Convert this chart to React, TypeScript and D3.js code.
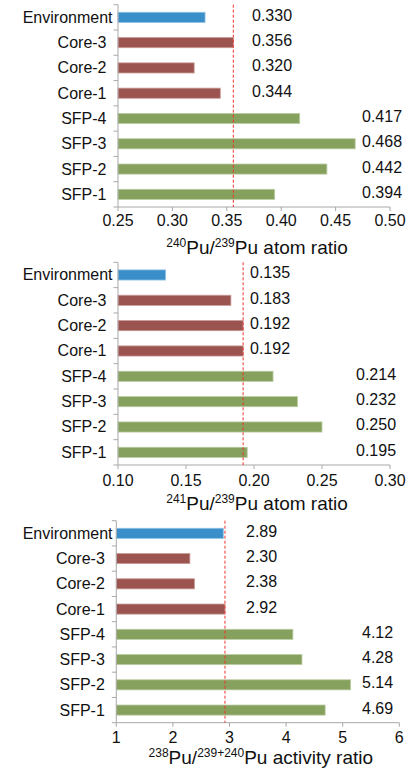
import React, { useEffect, useRef } from "react";
import * as d3 from "d3";

// Sample categories, listed top to bottom
const categories = ["Environment", "Core-3", "Core-2", "Core-1", "SFP-4", "SFP-3", "SFP-2", "SFP-1"];
const groups = ["env", "core", "core", "core", "sfp", "sfp", "sfp", "sfp"];

// 240Pu/239Pu atom ratio
const ratio240 = [0.33, 0.356, 0.32, 0.344, 0.417, 0.468, 0.442, 0.394];
// 241Pu/239Pu atom ratio
const ratio241 = [0.135, 0.183, 0.192, 0.192, 0.214, 0.232, 0.25, 0.195];
// 238Pu/(239+240)Pu activity ratio
const ratio238 = [2.89, 2.3, 2.38, 2.92, 4.12, 4.28, 5.14, 4.69];

const ticks240 = [0.25, 0.3, 0.35, 0.4, 0.45, 0.5];
const ticks241 = [0.1, 0.15, 0.2, 0.25, 0.3];
const ticks238 = [1, 2, 3, 4, 5, 6];

const groupColor: Record<string, string> = {
  env: "#3a8fcb",
  core: "#9b5450",
  sfp: "#86a15d",
};
const groupStroke: Record<string, string> = {
  env: "#8fc0e4",
  core: "#c99a97",
  sfp: "#bccca4",
};

type Panel = {
  values: number[];
  ticks: number[];
  tickFmt: string;
  valFmt: string;
  sup1: string;
  sup2: string;
  tail: string;
  top: number;
  bottom: number;
  x0: number;
  x1: number;
  colA: number;
  colB: number;
  tickDy: number;
  titleDy: number;
};

const panels: Panel[] = [
  { values: ratio240, ticks: ticks240, tickFmt: ".2f", valFmt: ".3f", sup1: "240", sup2: "239", tail: "Pu atom ratio",
    top: 4.7, bottom: 207, x0: 118, x1: 390, colA: 252, colB: 362, tickDy: 19, titleDy: 46.5 },
  { values: ratio241, ticks: ticks241, tickFmt: ".2f", valFmt: ".3f", sup1: "241", sup2: "239", tail: "Pu atom ratio",
    top: 262.3, bottom: 465, x0: 118, x1: 390, colA: 250, colB: 356, tickDy: 20.5, titleDy: 45 },
  { values: ratio238, ticks: ticks238, tickFmt: "d", valFmt: ".2f", sup1: "238", sup2: "239+240", tail: "Pu activity ratio",
    top: 520.7, bottom: 722.7, x0: 116.3, x1: 399.3, colA: 246, colB: 362, tickDy: 20.5, titleDy: 41.5 },
];

const FONT = "'Liberation Sans', Arial, Helvetica, sans-serif";

export default function App() {
  const ref = useRef<SVGSVGElement>(null);

  useEffect(() => {
    const svg = d3.select(ref.current);
    svg.selectAll("*").remove();

    panels.forEach((p) => {
      const g = svg.append("g");
      const ticks = p.ticks;
      const x = d3.scaleLinear().domain([ticks[0], ticks[ticks.length - 1]]).range([p.x0, p.x1]);
      const y = d3.scaleBand().domain(categories).range([p.top, p.bottom]).paddingInner(0.6).paddingOuter(0.3);
      const yb = d3.scaleBand().domain(categories).range([p.top, p.bottom]);

      // reference line at the highest core value
      const coreMax = d3.max(p.values.filter((_, i) => groups[i] === "core")) as number;

      // bars
      g.selectAll("rect.bar")
        .data(p.values)
        .join("rect")
        .attr("class", "bar")
        .attr("x", x(ticks[0]))
        .attr("y", (_, i) => y(categories[i]) as number)
        .attr("width", (d) => x(d) - x(ticks[0]))
        .attr("height", y.bandwidth())
        .attr("fill", (_, i) => groupColor[groups[i]])
        .attr("stroke", (_, i) => groupStroke[groups[i]])
        .attr("stroke-width", 0.8);

      // axes
      const axisColor = "#a8a8a8";
      g.append("line")
        .attr("x1", p.x0).attr("x2", p.x0)
        .attr("y1", p.top).attr("y2", p.bottom)
        .attr("stroke", axisColor);
      const bounds = categories.map((c) => yb(c) as number).concat([p.bottom]);
      g.selectAll("line.ytick")
        .data(bounds)
        .join("line")
        .attr("class", "ytick")
        .attr("x1", p.x0 - 4.5).attr("x2", p.x0)
        .attr("y1", (d) => d).attr("y2", (d) => d)
        .attr("stroke", axisColor);

      g.append("line")
        .attr("x1", p.x0).attr("x2", p.x1)
        .attr("y1", p.bottom).attr("y2", p.bottom)
        .attr("stroke", axisColor);
      g.selectAll("line.xtick")
        .data(ticks)
        .join("line")
        .attr("class", "xtick")
        .attr("x1", (d) => x(d)).attr("x2", (d) => x(d))
        .attr("y1", p.bottom).attr("y2", p.bottom + 4)
        .attr("stroke", axisColor);

      const tf = d3.format(p.tickFmt);
      g.selectAll("text.xlab")
        .data(ticks)
        .join("text")
        .attr("class", "xlab")
        .attr("x", (d) => x(d))
        .attr("y", p.bottom + p.tickDy)
        .attr("text-anchor", "middle")
        .attr("font-family", FONT)
        .attr("font-size", 16)
        .attr("fill", "#111")
        .text((d) => tf(d));

      // category labels
      const labelRight = p.x0 - 11.5;
      const leftLimit = 22.7;
      g.selectAll("text.ylab")
        .data(categories)
        .join("text")
        .attr("class", "ylab")
        .attr("x", labelRight)
        .attr("y", (d) => (yb(d) as number) + yb.bandwidth() / 2 + 5.5)
        .attr("text-anchor", "end")
        .attr("font-family", FONT)
        .attr("font-size", 16)
        .attr("fill", "#111")
        .text((d) => d)
        .each(function () {
          const t = this as SVGTextElement;
          const w = t.getComputedTextLength();
          if (labelRight - w < leftLimit) {
            d3.select(t).attr("text-anchor", "start").attr("x", leftLimit);
          }
        });

      // dashed reference line
      g.append("line")
        .attr("x1", x(coreMax)).attr("x2", x(coreMax))
        .attr("y1", p.top).attr("y2", p.bottom)
        .attr("stroke", "#f0322a")
        .attr("stroke-width", 1)
        .attr("stroke-dasharray", "3,2");

      // value labels
      const vf = d3.format(p.valFmt);
      g.selectAll("text.val")
        .data(p.values)
        .join("text")
        .attr("class", "val")
        .attr("x", (_, i) => (groups[i] === "sfp" ? p.colB : p.colA))
        .attr("y", (_, i) => (yb(categories[i]) as number) + yb.bandwidth() / 2 - 2 + 5.5)
        .attr("font-family", FONT)
        .attr("font-size", 16)
        .attr("fill", "#111")
        .text((d) => vf(d));

      // axis title with mass-number superscripts
      const title = g.append("text")
        .attr("x", (p.x0 + p.x1) / 2 + 3)
        .attr("y", p.bottom + p.titleDy)
        .attr("text-anchor", "middle")
        .attr("font-family", FONT)
        .attr("font-size", 19)
        .attr("fill", "#111");
      title.append("tspan").attr("font-size", 12).attr("dy", -7).text(p.sup1);
      title.append("tspan").attr("dy", 7).text("Pu/");
      title.append("tspan").attr("font-size", 12).attr("dy", -7).text(p.sup2);
      title.append("tspan").attr("dy", 7).text(p.tail);
    });
  }, []);

  return (
    <svg
      ref={ref}
      width={418}
      height={769}
      style={{ position: "absolute", left: 0, top: 0, background: "#fff" }}
    />
  );
}
